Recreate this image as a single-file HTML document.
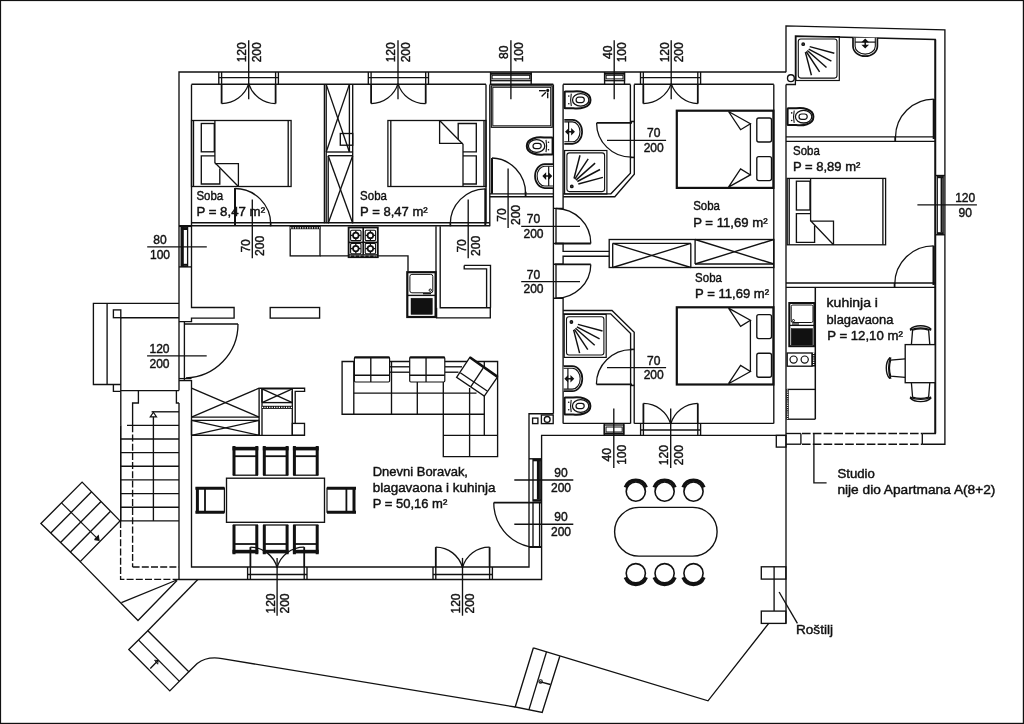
<!DOCTYPE html>
<html><head><meta charset="utf-8"><title>Floor plan</title>
<style>
html,body{margin:0;padding:0;background:#fff;}
body{width:1024px;height:724px;overflow:hidden;}
svg{display:block;will-change:transform;}
svg *{vector-effect:none;}
text{font-family:"Liberation Sans",sans-serif;font-size:12.6px;fill:#111;stroke:#111;stroke-width:0.42px;}
</style></head><body>
<svg width="1024" height="724" viewBox="0 0 1024 724" fill="none" stroke="#111" stroke-width="1.35" stroke-linecap="butt" stroke-linejoin="miter">
<rect x="0" y="0" width="1024" height="724" fill="#fff" stroke="none"/>
<rect x="0.5" y="0.5" width="1022.9" height="722.9" stroke-width="1.2"/>
<polyline points="786,72 179,72 179,390.6"/>
<polyline points="179,403 179,579.5 541.6,579.5 541.6,435.3 786,435.3"/>
<polyline points="786,72.3 786,25.9 944.9,29.8 944.9,444.2 922.3,444.2"/>
<polyline points="786,444.2 800.9,444.2"/>
<line x1="786" y1="84.5" x2="786" y2="623.4"/>
<polyline points="800.9,433.5 786,433.5"/>
<polyline points="922.3,433.5 935.3,433.5 935.3,39.5 795.4,36 795.4,84.5 786,84.5" stroke-width="1.3"/>
<line x1="800.9" y1="433.5" x2="800.9" y2="444.2"/>
<line x1="922.3" y1="433.5" x2="922.3" y2="444.2"/>
<line x1="935.3" y1="39.5" x2="935.3" y2="433.5" stroke-width="1.9"/>
<line x1="802" y1="433.5" x2="922.3" y2="433.5" stroke-width="1.5" stroke-dasharray="8.6 2.2"/>
<line x1="802" y1="444.2" x2="922.3" y2="444.2" stroke-width="1.5" stroke-dasharray="8.6 2.2"/>
<circle cx="790.9" cy="78.2" r="3.4"/>
<rect x="776.3" y="435.4" width="9.7" height="11.7"/>
<line x1="191.5" y1="84.2" x2="486" y2="84.2"/>
<line x1="489.8" y1="84.2" x2="553.3" y2="84.2"/>
<line x1="563.1" y1="84.2" x2="630.4" y2="84.2"/>
<line x1="634.2" y1="84.2" x2="773.8" y2="84.2"/>
<polyline points="191.5,84.4 191.5,307.5 234.1,307.5 234.1,318.1 191.5,318.1 191.5,321.6 179,321.6"/>
<polyline points="179,380.6 191.5,380.6 191.5,567 529,567 529,413.7 553.4,413.7"/>
<line x1="179" y1="226.4" x2="191.5" y2="226.4"/>
<line x1="179" y1="266.9" x2="191.5" y2="266.9"/>
<rect x="270.2" y="307.5" width="49.4" height="10.6"/>
<line x1="191.5" y1="222.7" x2="489.8" y2="222.7"/>
<line x1="179" y1="225.7" x2="489.8" y2="225.7"/>
<line x1="324.4" y1="84.4" x2="324.4" y2="223.3"/>
<line x1="326.2" y1="84.4" x2="326.2" y2="223.3"/>
<line x1="349.4" y1="84.4" x2="349.4" y2="152"/>
<line x1="352.7" y1="84.4" x2="352.7" y2="223.3"/>
<line x1="486" y1="84.4" x2="486" y2="223.3"/>
<line x1="489.8" y1="84.4" x2="489.8" y2="226.3"/>
<line x1="326.2" y1="152" x2="352.7" y2="152"/>
<line x1="326.2" y1="84.4" x2="349.4" y2="152"/>
<line x1="326.2" y1="152" x2="349.4" y2="84.4"/>
<rect x="340.3" y="133.5" width="12.4" height="11.7"/>
<line x1="328.2" y1="155.7" x2="352.7" y2="155.7"/>
<line x1="328.2" y1="155.7" x2="328.2" y2="223.3"/>
<line x1="328.2" y1="155.7" x2="352.7" y2="223.3"/>
<line x1="328.2" y1="223.3" x2="352.7" y2="155.7"/>
<line x1="553.4" y1="84.4" x2="553.4" y2="413.7"/>
<polyline points="563.1,84.4 563.1,208.3 553.4,208.3"/>
<polyline points="553.4,243.5 563.1,243.5 563.1,251.3 609.2,251.3"/>
<polyline points="609.2,256.2 563.1,256.2 563.1,264.2 553.4,264.2"/>
<polyline points="553.4,298.2 563.1,298.2 563.1,423.4"/>
<line x1="556" y1="208.3" x2="556" y2="243.5"/>
<line x1="556" y1="264.2" x2="556" y2="298.2"/>
<line x1="489.8" y1="193.8" x2="553.4" y2="193.8"/>
<line x1="489.8" y1="196.7" x2="553.4" y2="196.7"/>
<polyline points="436,226.3 436,307.7"/>
<polyline points="440.2,226.3 440.2,307.7 490.3,307.7 490.3,317.8 436.6,317.8 436.6,307.7"/>
<polyline points="464.2,265.4 490.5,265.4 490.5,307.7"/>
<polyline points="464.2,265.4 464.2,268.9 486.6,268.9 486.6,307.7"/>
<polyline points="630.4,84.4 630.4,173.3 610.9,193.8 563.1,193.8"/>
<polyline points="634.3,84.4 634.3,174.3 614.8,196.7 563.1,196.7"/>
<polyline points="563.1,310.5 612,310.5 634.2,332.3 634.2,423.4"/>
<polyline points="563.1,313.8 610.7,313.8 630.6,333.5 630.6,423.4"/>
<line x1="563.1" y1="423.4" x2="630.6" y2="423.4"/>
<line x1="634.2" y1="423.4" x2="773.8" y2="423.4"/>
<line x1="773.8" y1="84.4" x2="773.8" y2="423.4"/>
<rect x="532.6" y="418.1" width="5.3" height="5.5"/>
<rect x="541.4" y="415" width="11.8" height="8.6"/>
<circle cx="547.2" cy="419.4" r="2.9"/>
<line x1="218.8" y1="72" x2="218.8" y2="84.2"/>
<line x1="221.6" y1="72" x2="221.6" y2="84.2"/>
<line x1="275.6" y1="72" x2="275.6" y2="84.2"/>
<line x1="278.4" y1="72" x2="278.4" y2="84.2"/>
<line x1="218.8" y1="77.6" x2="278.4" y2="77.6"/>
<path d="M221.6,84.2 L221.6,103.6" stroke-width="1.8"/>
<path d="M275.6,84.2 L275.6,103.6" stroke-width="1.8"/>
<path d="M221.6,103.6 A28.63,28.63 0 0 0 248.7,83.6" stroke-width="1.3"/>
<path d="M275.6,103.6 A28.63,28.63 0 0 1 248.7,83.6" stroke-width="1.3"/>
<line x1="368.3" y1="72" x2="368.3" y2="84.2"/>
<line x1="371.1" y1="72" x2="371.1" y2="84.2"/>
<line x1="425.7" y1="72" x2="425.7" y2="84.2"/>
<line x1="428.5" y1="72" x2="428.5" y2="84.2"/>
<line x1="368.3" y1="77.6" x2="428.5" y2="77.6"/>
<path d="M371.1,84.2 L371.1,103.6" stroke-width="1.8"/>
<path d="M425.7,84.2 L425.7,103.6" stroke-width="1.8"/>
<path d="M371.1,103.6 A28.35,28.35 0 0 0 398,83.6" stroke-width="1.3"/>
<path d="M425.7,103.6 A28.35,28.35 0 0 1 398,83.6" stroke-width="1.3"/>
<line x1="640.5" y1="72" x2="640.5" y2="84.2"/>
<line x1="643.3" y1="72" x2="643.3" y2="84.2"/>
<line x1="697.8" y1="72" x2="697.8" y2="84.2"/>
<line x1="700.6" y1="72" x2="700.6" y2="84.2"/>
<line x1="640.5" y1="77.6" x2="700.6" y2="77.6"/>
<path d="M643.3,84.2 L643.3,103.6" stroke-width="1.8"/>
<path d="M697.8,84.2 L697.8,103.6" stroke-width="1.8"/>
<path d="M643.3,103.6 A29.76,29.76 0 0 0 671.2,83.6" stroke-width="1.3"/>
<path d="M697.8,103.6 A29.76,29.76 0 0 1 671.2,83.6" stroke-width="1.3"/>
<line x1="640.6" y1="435.3" x2="640.6" y2="423.4"/>
<line x1="643.4" y1="435.3" x2="643.4" y2="423.4"/>
<line x1="697.8" y1="435.3" x2="697.8" y2="423.4"/>
<line x1="700.6" y1="435.3" x2="700.6" y2="423.4"/>
<line x1="640.6" y1="430" x2="700.6" y2="430"/>
<path d="M643.4,423.4 L643.4,403.4" stroke-width="1.8"/>
<path d="M697.8,423.4 L697.8,403.4" stroke-width="1.8"/>
<path d="M643.4,403.4 A28.63,28.63 0 0 1 670.7,424" stroke-width="1.3"/>
<path d="M697.8,403.4 A28.63,28.63 0 0 0 670.7,424" stroke-width="1.3"/>
<line x1="247.6" y1="579.5" x2="247.6" y2="567"/>
<line x1="250.4" y1="579.5" x2="250.4" y2="567"/>
<line x1="304.2" y1="579.5" x2="304.2" y2="567"/>
<line x1="307" y1="579.5" x2="307" y2="567"/>
<line x1="247.6" y1="574.5" x2="307" y2="574.5"/>
<path d="M250.4,567 L250.4,547.1" stroke-width="1.8"/>
<path d="M304.2,567 L304.2,547.1" stroke-width="1.8"/>
<path d="M250.4,547.1 A27.86,27.86 0 0 1 277.1,567.6" stroke-width="1.3"/>
<path d="M304.2,547.1 A27.86,27.86 0 0 0 277.1,567.6" stroke-width="1.3"/>
<line x1="433" y1="579.5" x2="433" y2="567"/>
<line x1="435.8" y1="579.5" x2="435.8" y2="567"/>
<line x1="489.6" y1="579.5" x2="489.6" y2="567"/>
<line x1="492.4" y1="579.5" x2="492.4" y2="567"/>
<line x1="433" y1="574.5" x2="492.4" y2="574.5"/>
<path d="M435.8,567 L435.8,547.1" stroke-width="1.8"/>
<path d="M489.6,567 L489.6,547.1" stroke-width="1.8"/>
<path d="M435.8,547.1 A27.86,27.86 0 0 1 462.5,567.6" stroke-width="1.3"/>
<path d="M489.6,547.1 A27.86,27.86 0 0 0 462.5,567.6" stroke-width="1.3"/>
<rect x="490.6" y="73.3" width="40.6" height="7.4" stroke-width="1.3"/>
<rect x="492.1" y="75.3" width="37.6" height="3.6" stroke-width="1"/>
<line x1="490.6" y1="73.9" x2="531.2" y2="73.9" stroke-width="1.6"/>
<rect x="604.6" y="73.3" width="19.9" height="7.4" stroke-width="1.3"/>
<rect x="606.1" y="75.3" width="16.9" height="3.6" stroke-width="1"/>
<line x1="604.6" y1="73.9" x2="624.5" y2="73.9" stroke-width="1.6"/>
<line x1="490.6" y1="72" x2="490.6" y2="84.4"/>
<line x1="531.2" y1="72" x2="531.2" y2="84.4"/>
<line x1="604.6" y1="72" x2="604.6" y2="84.4"/>
<line x1="624.5" y1="72" x2="624.5" y2="84.4"/>
<rect x="604.3" y="425" width="19.5" height="9" stroke-width="1.3"/>
<rect x="606" y="427" width="16.2" height="5" stroke-width="1"/>
<line x1="604.3" y1="433.5" x2="623.8" y2="433.5" stroke-width="1.6"/>
<line x1="604.3" y1="423.4" x2="604.3" y2="435.3"/>
<line x1="623.8" y1="423.4" x2="623.8" y2="435.3"/>
<rect x="181.2" y="227.3" width="6.4" height="39" stroke-width="1.3"/>
<rect x="181.2" y="227.3" width="2.4" height="39" stroke-width="0.5" fill="#111"/>
<line x1="181.2" y1="229" x2="187.6" y2="229" stroke-width="2"/>
<line x1="181.2" y1="264.8" x2="187.6" y2="264.8" stroke-width="2"/>
<rect x="937.3" y="176" width="5.9" height="58.3" stroke-width="1.2"/>
<line x1="941.6" y1="178" x2="941.6" y2="232.5" stroke-width="2"/>
<line x1="937.3" y1="177.2" x2="943.2" y2="177.2" stroke-width="2"/>
<line x1="937.3" y1="233.2" x2="943.2" y2="233.2" stroke-width="2"/>
<line x1="935.3" y1="175.5" x2="944.9" y2="175.5"/>
<line x1="935.3" y1="234.8" x2="944.9" y2="234.8"/>
<rect x="533" y="459.4" width="7.8" height="41.6" stroke-width="1.3"/>
<line x1="538.4" y1="461" x2="538.4" y2="499.5" stroke-width="3"/>
<line x1="533" y1="460.3" x2="540.8" y2="460.3" stroke-width="2"/>
<line x1="533" y1="500.2" x2="540.8" y2="500.2" stroke-width="2"/>
<line x1="529" y1="458.8" x2="541.6" y2="458.8"/>
<line x1="493.8" y1="502.6" x2="541.6" y2="502.6" stroke-width="1.6"/>
<path d="M493.8,502.6 A44.7,44.7 0 0 0 529,546.6" stroke-width="1.3"/>
<line x1="533" y1="502.6" x2="533" y2="547"/>
<line x1="539.6" y1="502.6" x2="539.6" y2="547"/>
<line x1="529" y1="547" x2="541.6" y2="547" stroke-width="2"/>
<line x1="235" y1="188" x2="235" y2="226" stroke-width="2"/>
<path d="M235,188.5 A36,36 0 0 1 270.8,224.5" stroke-width="1.3"/>
<line x1="485.3" y1="188.6" x2="485.3" y2="225" stroke-width="2"/>
<path d="M485.3,188.8 A35.5,35.5 0 0 0 450.2,224.5" stroke-width="1.3"/>
<line x1="450.4" y1="223.3" x2="450.4" y2="226.3" stroke-width="1.6"/>
<line x1="270.6" y1="223.3" x2="270.6" y2="226.3" stroke-width="1.6"/>
<line x1="492" y1="158" x2="492" y2="193.8" stroke-width="2"/>
<path d="M492,158 A34.5,35.8 0 0 1 525.6,193.8" stroke-width="1.3"/>
<line x1="525.6" y1="191.8" x2="525.6" y2="196.7" stroke-width="1.8"/>
<line x1="555" y1="243.5" x2="590.8" y2="243.5" stroke-width="1.8"/>
<path d="M590.8,243.5 A35,35 0 0 0 556,208.5" stroke-width="1.3"/>
<line x1="555" y1="264.4" x2="590.8" y2="264.4" stroke-width="1.8"/>
<path d="M590.8,264.4 A35,34 0 0 1 556,298.2" stroke-width="1.3"/>
<line x1="596.6" y1="122.9" x2="632" y2="122.9" stroke-width="1.8"/>
<path d="M596.6,122.9 A34.8,34.3 0 0 0 631.4,157.2" stroke-width="1.3"/>
<line x1="630.4" y1="121.5" x2="634.3" y2="121.5" stroke-width="1.6"/>
<line x1="630.4" y1="157.4" x2="634.3" y2="157.4" stroke-width="1.6"/>
<line x1="596.4" y1="384.3" x2="632" y2="384.3" stroke-width="1.8"/>
<path d="M596.4,384.3 A35.2,34.7 0 0 1 631.6,349.6" stroke-width="1.3"/>
<line x1="630.6" y1="349.4" x2="634.2" y2="349.4" stroke-width="1.6"/>
<line x1="630.6" y1="385.4" x2="634.2" y2="385.4" stroke-width="1.6"/>
<line x1="933.8" y1="99" x2="933.8" y2="139" stroke-width="2.2"/>
<path d="M933.8,99.1 A38.3,38.1 0 0 0 895.5,137.2" stroke-width="1.3"/>
<line x1="895.2" y1="136.8" x2="895.2" y2="141.4" stroke-width="1.8"/>
<line x1="786" y1="136.8" x2="935.3" y2="136.8"/>
<line x1="786" y1="141.4" x2="935.3" y2="141.4"/>
<line x1="933.6" y1="245.8" x2="933.6" y2="285" stroke-width="2.2"/>
<path d="M933.6,245.9 A38.8,38.1 0 0 0 894.8,284" stroke-width="1.3"/>
<line x1="894.6" y1="283" x2="894.6" y2="287.3" stroke-width="1.8"/>
<line x1="786" y1="283" x2="935.3" y2="283"/>
<line x1="786" y1="287.3" x2="935.3" y2="287.3"/>
<line x1="184.4" y1="321.6" x2="184.4" y2="380.6"/>
<line x1="184.3" y1="324" x2="238" y2="324" stroke-width="1.4"/>
<path d="M238,324 A53.7,53.7 0 0 1 186,377.9" stroke-width="1.3"/>
<line x1="179" y1="378.6" x2="191.5" y2="378.6"/>
<line x1="248.7" y1="40.2" x2="248.7" y2="99.3"/>
<text x="246.1" y="52.3" text-anchor="middle" textLength="20.1" lengthAdjust="spacingAndGlyphs" transform="rotate(-90 246.1 52.3)">120</text>
<text x="260.6" y="52.3" text-anchor="middle" textLength="20.1" lengthAdjust="spacingAndGlyphs" transform="rotate(-90 260.6 52.3)">200</text>
<line x1="398" y1="40.2" x2="398" y2="99.3"/>
<text x="395.4" y="52.3" text-anchor="middle" textLength="20.1" lengthAdjust="spacingAndGlyphs" transform="rotate(-90 395.4 52.3)">120</text>
<text x="409.9" y="52.3" text-anchor="middle" textLength="20.1" lengthAdjust="spacingAndGlyphs" transform="rotate(-90 409.9 52.3)">200</text>
<line x1="510.9" y1="40.2" x2="510.9" y2="99.3"/>
<text x="508.3" y="52.3" text-anchor="middle" textLength="13.4" lengthAdjust="spacingAndGlyphs" transform="rotate(-90 508.3 52.3)">80</text>
<text x="522.8" y="52.3" text-anchor="middle" textLength="20.1" lengthAdjust="spacingAndGlyphs" transform="rotate(-90 522.8 52.3)">100</text>
<line x1="614.2" y1="40.2" x2="614.2" y2="99.3"/>
<text x="611.6" y="52.3" text-anchor="middle" textLength="13.4" lengthAdjust="spacingAndGlyphs" transform="rotate(-90 611.6 52.3)">40</text>
<text x="626.1" y="52.3" text-anchor="middle" textLength="20.1" lengthAdjust="spacingAndGlyphs" transform="rotate(-90 626.1 52.3)">100</text>
<line x1="671.2" y1="40.2" x2="671.2" y2="99.3"/>
<text x="668.6" y="52.3" text-anchor="middle" textLength="20.1" lengthAdjust="spacingAndGlyphs" transform="rotate(-90 668.6 52.3)">120</text>
<text x="683.1" y="52.3" text-anchor="middle" textLength="20.1" lengthAdjust="spacingAndGlyphs" transform="rotate(-90 683.1 52.3)">200</text>
<line x1="252.3" y1="199.6" x2="252.3" y2="258.2"/>
<text x="249.7" y="245.9" text-anchor="middle" textLength="13.4" lengthAdjust="spacingAndGlyphs" transform="rotate(-90 249.7 245.9)">70</text>
<text x="264.2" y="245.9" text-anchor="middle" textLength="20.1" lengthAdjust="spacingAndGlyphs" transform="rotate(-90 264.2 245.9)">200</text>
<line x1="468.2" y1="199.6" x2="468.2" y2="258.2"/>
<text x="465.6" y="245.9" text-anchor="middle" textLength="13.4" lengthAdjust="spacingAndGlyphs" transform="rotate(-90 465.6 245.9)">70</text>
<text x="480.1" y="245.9" text-anchor="middle" textLength="20.1" lengthAdjust="spacingAndGlyphs" transform="rotate(-90 480.1 245.9)">200</text>
<line x1="508.1" y1="168.4" x2="508.1" y2="228"/>
<text x="505.5" y="215" text-anchor="middle" textLength="13.4" lengthAdjust="spacingAndGlyphs" transform="rotate(-90 505.5 215)">70</text>
<text x="520" y="215" text-anchor="middle" textLength="20.1" lengthAdjust="spacingAndGlyphs" transform="rotate(-90 520 215)">200</text>
<line x1="613.8" y1="408.4" x2="613.8" y2="468"/>
<text x="611.2" y="454.8" text-anchor="middle" textLength="13.4" lengthAdjust="spacingAndGlyphs" transform="rotate(-90 611.2 454.8)">40</text>
<text x="625.7" y="454.8" text-anchor="middle" textLength="20.1" lengthAdjust="spacingAndGlyphs" transform="rotate(-90 625.7 454.8)">100</text>
<line x1="670.7" y1="408.4" x2="670.7" y2="468"/>
<text x="668.1" y="455.2" text-anchor="middle" textLength="20.1" lengthAdjust="spacingAndGlyphs" transform="rotate(-90 668.1 455.2)">120</text>
<text x="682.6" y="455.2" text-anchor="middle" textLength="20.1" lengthAdjust="spacingAndGlyphs" transform="rotate(-90 682.6 455.2)">200</text>
<line x1="277.1" y1="557.9" x2="277.1" y2="615.7"/>
<text x="274.5" y="603.5" text-anchor="middle" textLength="20.1" lengthAdjust="spacingAndGlyphs" transform="rotate(-90 274.5 603.5)">120</text>
<text x="289" y="603.5" text-anchor="middle" textLength="20.1" lengthAdjust="spacingAndGlyphs" transform="rotate(-90 289 603.5)">200</text>
<line x1="462.5" y1="557.9" x2="462.5" y2="615.7"/>
<text x="459.9" y="603.5" text-anchor="middle" textLength="20.1" lengthAdjust="spacingAndGlyphs" transform="rotate(-90 459.9 603.5)">120</text>
<text x="474.4" y="603.5" text-anchor="middle" textLength="20.1" lengthAdjust="spacingAndGlyphs" transform="rotate(-90 474.4 603.5)">200</text>
<line x1="147.2" y1="246.9" x2="206.8" y2="246.9"/>
<text x="160" y="243.9" text-anchor="middle" textLength="13.4" lengthAdjust="spacingAndGlyphs">80</text>
<text x="160" y="258.7" text-anchor="middle" textLength="20.1" lengthAdjust="spacingAndGlyphs">100</text>
<line x1="147.1" y1="355.8" x2="206.7" y2="355.8"/>
<text x="159.5" y="352.8" text-anchor="middle" textLength="20.1" lengthAdjust="spacingAndGlyphs">120</text>
<text x="159.5" y="367.6" text-anchor="middle" textLength="20.1" lengthAdjust="spacingAndGlyphs">200</text>
<line x1="521.2" y1="226.3" x2="580" y2="226.3"/>
<text x="533.5" y="223.3" text-anchor="middle" textLength="13.4" lengthAdjust="spacingAndGlyphs">70</text>
<text x="533.5" y="238.1" text-anchor="middle" textLength="20.1" lengthAdjust="spacingAndGlyphs">200</text>
<line x1="521.2" y1="281.6" x2="580" y2="281.6"/>
<text x="533.5" y="278.6" text-anchor="middle" textLength="13.4" lengthAdjust="spacingAndGlyphs">70</text>
<text x="533.5" y="293.4" text-anchor="middle" textLength="20.1" lengthAdjust="spacingAndGlyphs">200</text>
<line x1="607" y1="140.4" x2="666.1" y2="140.4"/>
<text x="653.7" y="137.4" text-anchor="middle" textLength="13.4" lengthAdjust="spacingAndGlyphs">70</text>
<text x="653.7" y="152.2" text-anchor="middle" textLength="20.1" lengthAdjust="spacingAndGlyphs">200</text>
<line x1="607" y1="367.6" x2="666.1" y2="367.6"/>
<text x="653.7" y="364.6" text-anchor="middle" textLength="13.4" lengthAdjust="spacingAndGlyphs">70</text>
<text x="653.7" y="379.4" text-anchor="middle" textLength="20.1" lengthAdjust="spacingAndGlyphs">200</text>
<line x1="917.4" y1="204.9" x2="976.9" y2="204.9"/>
<text x="965.2" y="201.9" text-anchor="middle" textLength="20.1" lengthAdjust="spacingAndGlyphs">120</text>
<text x="965.2" y="216.7" text-anchor="middle" textLength="13.4" lengthAdjust="spacingAndGlyphs">90</text>
<line x1="514.3" y1="480" x2="573.3" y2="480"/>
<text x="561" y="477" text-anchor="middle" textLength="13.4" lengthAdjust="spacingAndGlyphs">90</text>
<text x="561" y="491.8" text-anchor="middle" textLength="20.1" lengthAdjust="spacingAndGlyphs">200</text>
<line x1="514.3" y1="524.2" x2="573.3" y2="524.2"/>
<text x="561" y="521.2" text-anchor="middle" textLength="13.4" lengthAdjust="spacingAndGlyphs">90</text>
<text x="561" y="536" text-anchor="middle" textLength="20.1" lengthAdjust="spacingAndGlyphs">200</text>
<rect x="191.5" y="120.5" width="99.6" height="66" stroke-width="1.3"/>
<line x1="193.5" y1="120.5" x2="193.5" y2="186.5"/>
<line x1="288.2" y1="120.5" x2="288.2" y2="186.5"/>
<rect x="201.3" y="123.5" width="13" height="28.3"/>
<polyline points="214.9,155.8 201.3,155.8 201.3,184 219.8,184 219.8,168.5"/>
<polyline points="214.9,120.5 214.9,162.8 238.4,186.5" stroke-width="1.3"/>
<polyline points="214.9,163.6 238.4,163.6 238.4,186.5" stroke-width="1.3"/>
<rect x="387.9" y="120.5" width="98.1" height="66" stroke-width="1.3"/>
<line x1="390.8" y1="120.5" x2="390.8" y2="186.5"/>
<line x1="484" y1="120.5" x2="484" y2="186.5"/>
<polyline points="463,151.8 476.3,151.8 476.3,123.5 458.2,123.5 458.2,139.4"/>
<polyline points="463,155.8 476.3,155.8 476.3,184 463,184"/>
<polyline points="439.6,120.5 463,144.3 463,186.5" stroke-width="1.3"/>
<polyline points="439.6,120.5 439.6,143.4 462.7,143.4" stroke-width="1.3"/>
<rect x="787.2" y="178.4" width="98.4" height="66.4" stroke-width="1.3"/>
<line x1="789.2" y1="178.4" x2="789.2" y2="244.8"/>
<line x1="882.9" y1="178.4" x2="882.9" y2="244.8"/>
<rect x="796.4" y="181.2" width="13.6" height="28.8"/>
<polyline points="810.6,213.6 796.4,213.6 796.4,242.3 814.6,242.3 814.6,225.5"/>
<polyline points="810.6,178.4 810.6,220.8 833.5,244.8" stroke-width="1.3"/>
<polyline points="810.6,221.2 833.5,221.2 833.5,244.8" stroke-width="1.3"/>
<rect x="676.8" y="110.7" width="96.6" height="77.2" stroke-width="2.2"/>
<rect x="756.8" y="118" width="14.7" height="24" rx="2"/>
<rect x="756.8" y="156.6" width="14.7" height="24" rx="2"/>
<line x1="750.4" y1="123.4" x2="750.4" y2="175.2" stroke-width="1.3"/>
<polyline points="728.5,111.5 750.4,123.7 740.6,129.7 728.5,111.5" stroke-width="1.3"/>
<polyline points="728.5,187.1 750.4,174.9 740.6,168.9 728.5,187.1" stroke-width="1.3"/>
<rect x="676.8" y="307.3" width="96.6" height="77.2" stroke-width="2.2"/>
<rect x="756.8" y="314.6" width="14.7" height="24" rx="2"/>
<rect x="756.8" y="353.2" width="14.7" height="24" rx="2"/>
<line x1="750.4" y1="320" x2="750.4" y2="371.8" stroke-width="1.3"/>
<polyline points="728.5,308.1 750.4,320.3 740.6,326.3 728.5,308.1" stroke-width="1.3"/>
<polyline points="728.5,383.7 750.4,371.5 740.6,365.5 728.5,383.7" stroke-width="1.3"/>
<rect x="609.2" y="239.5" width="164.6" height="28"/>
<line x1="612.7" y1="243.4" x2="690.8" y2="243.4"/>
<line x1="612.7" y1="243.4" x2="612.7" y2="267.5"/>
<line x1="690.8" y1="243.4" x2="690.8" y2="267.5"/>
<line x1="612.7" y1="243.4" x2="690.8" y2="267.5"/>
<line x1="612.7" y1="267.5" x2="690.8" y2="243.4"/>
<line x1="695.1" y1="264" x2="773.8" y2="264"/>
<line x1="695.1" y1="239.5" x2="695.1" y2="264"/>
<line x1="695.1" y1="239.5" x2="773.8" y2="264"/>
<line x1="695.1" y1="264" x2="773.8" y2="239.5"/>
<rect x="491.3" y="85.8" width="60.9" height="41.5" stroke-width="1.2"/>
<rect x="492.8" y="87.3" width="57.9" height="38.5" stroke-width="1"/>
<circle cx="547.7" cy="90.4" r="0.9" fill="#111"/>
<line x1="539" y1="90.7" x2="545.8" y2="90.7"/>
<line x1="541.6" y1="96.6" x2="545.9" y2="92.3"/>
<line x1="547.7" y1="92.4" x2="547.7" y2="98.3"/>
<g transform="translate(553 146) rotate(180)">
<path d="M0.4,-7.9 Q0.4,-8.4 1,-8.4 L9,-8.4 C15,-9.2 26.2,-8 26.2,0 C26.2,8 15,9.2 9,8.4 L1,8.4 Q0.4,8.4 0.4,7.9 Z" fill="#fff" stroke-width="2"/>
<ellipse cx="16.4" cy="0" rx="8.2" ry="6.3" stroke-width="1.3"/>
<rect x="11.8" y="-2.7" width="8.2" height="5.4" rx="2.6" stroke-width="1.2"/>
<path d="M7,-6.2 Q5.7,0 7,6.2" stroke-width="1.1"/>
<circle cx="4.5" cy="-3.8" r="0.8" fill="#111" stroke="none"/><circle cx="4.5" cy="3.8" r="0.8" fill="#111" stroke="none"/>
</g>
<g transform="translate(553 176.1) rotate(180)">
<path d="M0,-12 L8.28,-12 A9.72,12 0 0 1 8.28,12 L0,12" stroke-width="1.7" fill="#fff"/>
<path d="M0,-9.9 L8.28,-9.9 A7.62,9.9 0 0 1 8.28,9.9 L0,9.9" stroke-width="1.1"/>
<line x1="4.3" y1="-9.9" x2="4.3" y2="9.9" stroke-width="1.2"/>
<path d="M2,0 L9.4,0 M3.8,-2 L1.8,0 L3.8,2 Z M7.6,-2 L9.6,0 L7.6,2 Z" stroke-width="1.5" fill="#111"/>
</g>
<g transform="translate(564.3 99.9) rotate(0)">
<path d="M0.4,-7.9 Q0.4,-8.4 1,-8.4 L9,-8.4 C15,-9.2 26.2,-8 26.2,0 C26.2,8 15,9.2 9,8.4 L1,8.4 Q0.4,8.4 0.4,7.9 Z" fill="#fff" stroke-width="2"/>
<ellipse cx="16.4" cy="0" rx="8.2" ry="6.3" stroke-width="1.3"/>
<rect x="11.8" y="-2.7" width="8.2" height="5.4" rx="2.6" stroke-width="1.2"/>
<path d="M7,-6.2 Q5.7,0 7,6.2" stroke-width="1.1"/>
<circle cx="4.5" cy="-3.8" r="0.8" fill="#111" stroke="none"/><circle cx="4.5" cy="3.8" r="0.8" fill="#111" stroke="none"/>
</g>
<g transform="translate(564.3 131.8) rotate(0)">
<path d="M0,-12 L8.19,-12 A9.61,12 0 0 1 8.19,12 L0,12" stroke-width="1.7" fill="#fff"/>
<path d="M0,-9.9 L8.19,-9.9 A7.51,9.9 0 0 1 8.19,9.9 L0,9.9" stroke-width="1.1"/>
<line x1="4.3" y1="-9.9" x2="4.3" y2="9.9" stroke-width="1.2"/>
<path d="M2,0 L9.4,0 M3.8,-2 L1.8,0 L3.8,2 Z M7.6,-2 L9.6,0 L7.6,2 Z" stroke-width="1.5" fill="#111"/>
</g>
<rect x="564.6" y="150.5" width="42.3" height="43.5" stroke-width="1.2"/>
<rect x="566.9" y="152.9" width="37.7" height="38.7" rx="2.5" stroke-width="1.1"/>
<circle cx="571.8" cy="186.4" r="1.3" stroke-width="1.2" fill="#444"/>
<line x1="578.3" y1="184" x2="602.9" y2="177.4" stroke-width="1.45"/>
<line x1="577.3" y1="181.5" x2="600" y2="169.5" stroke-width="1.45"/>
<line x1="575.9" y1="180.1" x2="595.1" y2="163.1" stroke-width="1.45"/>
<line x1="574.8" y1="179.1" x2="588.2" y2="158.8" stroke-width="1.45"/>
<line x1="574" y1="178.5" x2="580" y2="155.3" stroke-width="1.45"/>
<rect x="564.2" y="314.4" width="42" height="43" stroke-width="1.2"/>
<rect x="566.5" y="316.8" width="37.4" height="38.2" rx="2.5" stroke-width="1.1"/>
<circle cx="571.4" cy="322" r="1.3" stroke-width="1.2" fill="#444"/>
<line x1="577.9" y1="324.4" x2="602.5" y2="331" stroke-width="1.45"/>
<line x1="576.9" y1="326.9" x2="599.6" y2="338.9" stroke-width="1.45"/>
<line x1="575.5" y1="328.3" x2="594.7" y2="345.3" stroke-width="1.45"/>
<line x1="574.4" y1="329.3" x2="587.8" y2="349.6" stroke-width="1.45"/>
<line x1="573.6" y1="329.9" x2="579.6" y2="353.1" stroke-width="1.45"/>
<g transform="translate(563.6 378.7) rotate(0)">
<path d="M0,-12.5 L8.6,-12.5 A10.1,12.5 0 0 1 8.6,12.5 L0,12.5" stroke-width="1.7" fill="#fff"/>
<path d="M0,-10.4 L8.6,-10.4 A8,10.4 0 0 1 8.6,10.4 L0,10.4" stroke-width="1.1"/>
<line x1="4.3" y1="-10.4" x2="4.3" y2="10.4" stroke-width="1.2"/>
<path d="M2,0 L9.4,0 M3.8,-2 L1.8,0 L3.8,2 Z M7.6,-2 L9.6,0 L7.6,2 Z" stroke-width="1.5" fill="#111"/>
</g>
<g transform="translate(564.2 406) rotate(0)">
<path d="M0.4,-7.9 Q0.4,-8.4 1,-8.4 L9,-8.4 C15,-9.2 26.2,-8 26.2,0 C26.2,8 15,9.2 9,8.4 L1,8.4 Q0.4,8.4 0.4,7.9 Z" fill="#fff" stroke-width="2"/>
<ellipse cx="16.4" cy="0" rx="8.2" ry="6.3" stroke-width="1.3"/>
<rect x="11.8" y="-2.7" width="8.2" height="5.4" rx="2.6" stroke-width="1.2"/>
<path d="M7,-6.2 Q5.7,0 7,6.2" stroke-width="1.1"/>
<circle cx="4.5" cy="-3.8" r="0.8" fill="#111" stroke="none"/><circle cx="4.5" cy="3.8" r="0.8" fill="#111" stroke="none"/>
</g>
<rect x="796" y="36.6" width="43.3" height="43.9" stroke-width="1.2"/>
<rect x="798.3" y="39" width="38.7" height="39.1" rx="2.5" stroke-width="1.1"/>
<circle cx="803.2" cy="44.2" r="1.3" stroke-width="1.2" fill="#444"/>
<line x1="809.7" y1="46.6" x2="834.3" y2="53.2" stroke-width="1.45"/>
<line x1="808.7" y1="49.1" x2="831.4" y2="61.1" stroke-width="1.45"/>
<line x1="807.3" y1="50.5" x2="826.5" y2="67.5" stroke-width="1.45"/>
<line x1="806.2" y1="51.5" x2="819.6" y2="71.8" stroke-width="1.45"/>
<line x1="805.4" y1="52.1" x2="811.4" y2="75.3" stroke-width="1.45"/>
<g transform="translate(865.2 37.8) rotate(90)">
<path d="M0,-12.2 L8.46,-12.2 A9.94,12.2 0 0 1 8.46,12.2 L0,12.2" stroke-width="1.7" fill="#fff"/>
<path d="M0,-10.1 L8.46,-10.1 A7.84,10.1 0 0 1 8.46,10.1 L0,10.1" stroke-width="1.1"/>
<line x1="4.3" y1="-10.1" x2="4.3" y2="10.1" stroke-width="1.2"/>
<path d="M2,0 L9.4,0 M3.8,-2 L1.8,0 L3.8,2 Z M7.6,-2 L9.6,0 L7.6,2 Z" stroke-width="1.5" fill="#111"/>
</g>
<g transform="translate(787.2 116.7) rotate(0)">
<path d="M0.4,-7.9 Q0.4,-8.4 1,-8.4 L9,-8.4 C15,-9.2 26.2,-8 26.2,0 C26.2,8 15,9.2 9,8.4 L1,8.4 Q0.4,8.4 0.4,7.9 Z" fill="#fff" stroke-width="2"/>
<ellipse cx="16.4" cy="0" rx="8.2" ry="6.3" stroke-width="1.3"/>
<rect x="11.8" y="-2.7" width="8.2" height="5.4" rx="2.6" stroke-width="1.2"/>
<path d="M7,-6.2 Q5.7,0 7,6.2" stroke-width="1.1"/>
<circle cx="4.5" cy="-3.8" r="0.8" fill="#111" stroke="none"/><circle cx="4.5" cy="3.8" r="0.8" fill="#111" stroke="none"/>
</g>
<rect x="290.2" y="226.6" width="29.8" height="29.3"/>
<rect x="290.2" y="226.6" width="29.8" height="2.4" stroke-width="0.4" fill="#111"/>
<line x1="290.2" y1="227.8" x2="320" y2="227.8" stroke="#fff" stroke-width="1.2" stroke-dasharray="1.2 1.2"/>
<polyline points="320,255.9 408,255.9 408,271.5"/>
<rect x="348.6" y="227.5" width="29.2" height="29.7" stroke-width="1.8" fill="#fff"/>
<line x1="363.2" y1="227.5" x2="363.2" y2="254.8" stroke-width="1.6"/>
<line x1="348.6" y1="242.4" x2="377.8" y2="242.4" stroke-width="1.6"/>
<line x1="348.6" y1="254.9" x2="377.8" y2="254.9" stroke-width="1.4"/>
<rect x="350.6" y="230.2" width="10.4" height="10.4" rx="1.2" stroke-width="1.1"/>
<circle cx="355.8" cy="235.4" r="2.8" stroke-width="1.7"/>
<line x1="350.8" y1="235.4" x2="352.8" y2="235.4" stroke-width="1.3"/>
<line x1="358.8" y1="235.4" x2="360.8" y2="235.4" stroke-width="1.3"/>
<line x1="355.8" y1="230.4" x2="355.8" y2="232.4" stroke-width="1.3"/>
<line x1="355.8" y1="238.4" x2="355.8" y2="240.4" stroke-width="1.3"/>
<rect x="350.6" y="243.4" width="10.4" height="10.4" rx="1.2" stroke-width="1.1"/>
<circle cx="355.8" cy="248.6" r="2.8" stroke-width="1.7"/>
<line x1="350.8" y1="248.6" x2="352.8" y2="248.6" stroke-width="1.3"/>
<line x1="358.8" y1="248.6" x2="360.8" y2="248.6" stroke-width="1.3"/>
<line x1="355.8" y1="243.6" x2="355.8" y2="245.6" stroke-width="1.3"/>
<line x1="355.8" y1="251.6" x2="355.8" y2="253.6" stroke-width="1.3"/>
<rect x="365.2" y="230.2" width="10.4" height="10.4" rx="1.2" stroke-width="1.1"/>
<circle cx="370.4" cy="235.4" r="2.8" stroke-width="1.7"/>
<line x1="365.4" y1="235.4" x2="367.4" y2="235.4" stroke-width="1.3"/>
<line x1="373.4" y1="235.4" x2="375.4" y2="235.4" stroke-width="1.3"/>
<line x1="370.4" y1="230.4" x2="370.4" y2="232.4" stroke-width="1.3"/>
<line x1="370.4" y1="238.4" x2="370.4" y2="240.4" stroke-width="1.3"/>
<rect x="365.2" y="243.4" width="10.4" height="10.4" rx="1.2" stroke-width="1.1"/>
<circle cx="370.4" cy="248.6" r="2.8" stroke-width="1.7"/>
<line x1="365.4" y1="248.6" x2="367.4" y2="248.6" stroke-width="1.3"/>
<line x1="373.4" y1="248.6" x2="375.4" y2="248.6" stroke-width="1.3"/>
<line x1="370.4" y1="243.6" x2="370.4" y2="245.6" stroke-width="1.3"/>
<line x1="370.4" y1="251.6" x2="370.4" y2="253.6" stroke-width="1.3"/>
<line x1="351" y1="256.2" x2="375.5" y2="256.2" stroke-width="1.4" stroke-dasharray="3.2 1.6"/>
<rect x="407.3" y="272.2" width="28.3" height="44.8" stroke-width="2.2" fill="#fff"/>
<rect x="409.9" y="274.4" width="22.9" height="18.4" rx="2" stroke-width="1"/>
<line x1="408" y1="295.4" x2="435" y2="295.4" stroke-width="1.4"/>
<rect x="411" y="298.2" width="21.3" height="16.2" stroke-width="0.5" fill="#111"/>
<circle cx="430.3" cy="290.2" r="1.2" stroke-width="1"/>
<line x1="423" y1="293.7" x2="431" y2="293.7" stroke-width="1.3"/>
<line x1="815.3" y1="287.3" x2="815.3" y2="419.2" stroke-width="1.5"/>
<line x1="787.2" y1="419.2" x2="815.3" y2="419.2"/>
<rect x="789.3" y="303" width="25.1" height="43.2" stroke-width="2" fill="#fff"/>
<rect x="791.2" y="305" width="21.8" height="17.5" rx="1.6" stroke-width="1"/>
<line x1="790" y1="325.4" x2="814" y2="325.4" stroke-width="1.3"/>
<rect x="791.2" y="328.6" width="21.4" height="16.4" stroke-width="0.5" fill="#111"/>
<circle cx="793.4" cy="320.6" r="1.1" stroke-width="1"/>
<line x1="792" y1="324" x2="799" y2="324" stroke-width="1.2"/>
<rect x="787.2" y="353" width="24.8" height="13.2"/>
<circle cx="793.6" cy="359.6" r="3.6" stroke-width="1.2"/>
<circle cx="804.7" cy="359.6" r="3.6" stroke-width="1.2"/>
<rect x="812" y="353" width="3.3" height="13.2" stroke-width="0.4" fill="#111"/>
<line x1="813.6" y1="353" x2="813.6" y2="366.2" stroke="#fff" stroke-width="1.3" stroke-dasharray="1.1 1.1"/>
<line x1="787.2" y1="389.4" x2="815.3" y2="389.4"/>
<rect x="786.6" y="389.4" width="2" height="29.8" stroke-width="0.4" fill="#111"/>
<line x1="787.6" y1="389.4" x2="787.6" y2="419.2" stroke="#fff" stroke-width="1.1" stroke-dasharray="1.1 1.1"/>
<g transform="translate(920.6 344.6) rotate(0)">
<path d="M-9.2,0 L-8,-14.5 Q0,-17 8,-14.5 L9.2,0" stroke-width="1.3"/>
<path d="M-10.2,-15.6 C-6,-20 6,-20 10.2,-15.6 L9.9,-14.6 C5,-17.2 -5,-17.2 -9.9,-14.6 Z" stroke-width="1.4" fill="#fff"/>
</g>
<g transform="translate(905.2 368.1) rotate(-90)">
<path d="M-9.2,0 L-8,-14.5 Q0,-17 8,-14.5 L9.2,0" stroke-width="1.3"/>
<path d="M-10.2,-15.6 C-6,-20 6,-20 10.2,-15.6 L9.9,-14.6 C5,-17.2 -5,-17.2 -9.9,-14.6 Z" stroke-width="1.4" fill="#fff"/>
</g>
<g transform="translate(920.6 382.7) rotate(180)">
<path d="M-9.2,0 L-8,-14.5 Q0,-17 8,-14.5 L9.2,0" stroke-width="1.3"/>
<path d="M-10.2,-15.6 C-6,-20 6,-20 10.2,-15.6 L9.9,-14.6 C5,-17.2 -5,-17.2 -9.9,-14.6 Z" stroke-width="1.4" fill="#fff"/>
</g>
<rect x="905.2" y="344.6" width="30" height="38.1" fill="#fff"/>
<line x1="191.5" y1="417.1" x2="259.1" y2="417.1"/>
<line x1="191.5" y1="388.2" x2="259.1" y2="417.1"/>
<line x1="191.5" y1="417.1" x2="259.1" y2="388.2"/>
<line x1="191.5" y1="420.4" x2="259.1" y2="420.4"/>
<line x1="191.5" y1="435.3" x2="259.1" y2="435.3"/>
<line x1="191.5" y1="420.4" x2="191.5" y2="435.3"/>
<line x1="259.1" y1="420.4" x2="259.1" y2="435.3"/>
<line x1="191.5" y1="420.4" x2="259.1" y2="435.3"/>
<line x1="191.5" y1="435.3" x2="259.1" y2="420.4"/>
<line x1="259.1" y1="388.2" x2="259.1" y2="435.3"/>
<line x1="262" y1="388.2" x2="262" y2="435.3"/>
<polyline points="259.1,388.2 304.6,388.2 304.6,391.3 295.2,391.3 295.2,423.6"/>
<line x1="292.3" y1="391.3" x2="292.3" y2="435.3"/>
<line x1="262" y1="388.8" x2="292.3" y2="388.8"/>
<line x1="262" y1="402.6" x2="292.3" y2="402.6"/>
<line x1="262" y1="388.8" x2="262" y2="402.6"/>
<line x1="292.3" y1="388.8" x2="292.3" y2="402.6"/>
<line x1="262" y1="388.8" x2="292.3" y2="402.6"/>
<line x1="262" y1="402.6" x2="292.3" y2="388.8"/>
<rect x="262" y="406" width="30.3" height="2.8" stroke-width="0.4" fill="#111"/>
<line x1="262" y1="407.4" x2="292.3" y2="407.4" stroke="#fff" stroke-width="1.2" stroke-dasharray="1.2 1.2"/>
<rect x="292.3" y="423.4" width="12.2" height="11.9"/>
<line x1="191.5" y1="435.3" x2="304.6" y2="435.3"/>
<g transform="translate(245.4 446.6) rotate(0)">
<path d="M-11.4,-0.6 L-11.4,28.6 M11.4,-0.6 L11.4,28.6" stroke-width="3"/>
<path d="M-12.9,2 L12.9,2" stroke-width="3.6"/>
<path d="M-11.6,9.6 L11.6,9.6" stroke-width="1.8"/>
<path d="M-12.6,28.6 L12.6,28.6" stroke-width="1.3"/>
</g>
<g transform="translate(245.4 553.6) rotate(180)">
<path d="M-11.4,-0.6 L-11.4,28.6 M11.4,-0.6 L11.4,28.6" stroke-width="3"/>
<path d="M-12.9,2 L12.9,2" stroke-width="3.6"/>
<path d="M-11.6,9.6 L11.6,9.6" stroke-width="1.8"/>
<path d="M-12.6,28.6 L12.6,28.6" stroke-width="1.3"/>
</g>
<g transform="translate(275.7 446.6) rotate(0)">
<path d="M-11.4,-0.6 L-11.4,28.6 M11.4,-0.6 L11.4,28.6" stroke-width="3"/>
<path d="M-12.9,2 L12.9,2" stroke-width="3.6"/>
<path d="M-11.6,9.6 L11.6,9.6" stroke-width="1.8"/>
<path d="M-12.6,28.6 L12.6,28.6" stroke-width="1.3"/>
</g>
<g transform="translate(275.7 553.6) rotate(180)">
<path d="M-11.4,-0.6 L-11.4,28.6 M11.4,-0.6 L11.4,28.6" stroke-width="3"/>
<path d="M-12.9,2 L12.9,2" stroke-width="3.6"/>
<path d="M-11.6,9.6 L11.6,9.6" stroke-width="1.8"/>
<path d="M-12.6,28.6 L12.6,28.6" stroke-width="1.3"/>
</g>
<g transform="translate(305.8 446.6) rotate(0)">
<path d="M-11.4,-0.6 L-11.4,28.6 M11.4,-0.6 L11.4,28.6" stroke-width="3"/>
<path d="M-12.9,2 L12.9,2" stroke-width="3.6"/>
<path d="M-11.6,9.6 L11.6,9.6" stroke-width="1.8"/>
<path d="M-12.6,28.6 L12.6,28.6" stroke-width="1.3"/>
</g>
<g transform="translate(305.8 553.6) rotate(180)">
<path d="M-11.4,-0.6 L-11.4,28.6 M11.4,-0.6 L11.4,28.6" stroke-width="3"/>
<path d="M-12.9,2 L12.9,2" stroke-width="3.6"/>
<path d="M-11.6,9.6 L11.6,9.6" stroke-width="1.8"/>
<path d="M-12.6,28.6 L12.6,28.6" stroke-width="1.3"/>
</g>
<g transform="translate(196 500.2) rotate(0)">
<path d="M-0.6,-12 L28.4,-12 M-0.6,12 L28.4,12" stroke-width="3"/>
<path d="M1.4,-13 L1.4,13" stroke-width="3"/>
<path d="M9,-12 L9,12" stroke-width="1.8"/>
<path d="M28.4,-12.6 L28.4,12.6" stroke-width="1.2"/>
</g>
<g transform="translate(355.4 500.2) rotate(180)">
<path d="M-0.6,-12 L28.4,-12 M-0.6,12 L28.4,12" stroke-width="3"/>
<path d="M1.4,-13 L1.4,13" stroke-width="3"/>
<path d="M9,-12 L9,12" stroke-width="1.8"/>
<path d="M28.4,-12.6 L28.4,12.6" stroke-width="1.2"/>
</g>
<rect x="226.5" y="478.2" width="98" height="44.1" fill="#fff"/>
<polygon points="342.1,361.5 497.6,361.5 497.6,456.6 443.3,456.6 443.3,414.2 342.1,414.2"/>
<line x1="353.8" y1="361.5" x2="353.8" y2="414.2"/>
<line x1="353.8" y1="393.1" x2="476.5" y2="393.1"/>
<line x1="391.5" y1="361.5" x2="391.5" y2="414.2"/>
<line x1="417.3" y1="382" x2="417.3" y2="414.2"/>
<line x1="443.3" y1="361.5" x2="443.3" y2="414.2"/>
<line x1="389.6" y1="366.8" x2="409.7" y2="366.8"/>
<line x1="389.6" y1="372.2" x2="409.7" y2="372.2"/>
<line x1="444.8" y1="366.8" x2="462" y2="366.8"/>
<line x1="444.8" y1="372.2" x2="458.5" y2="372.2"/>
<line x1="484.3" y1="361.5" x2="484.3" y2="435.3"/>
<line x1="469.6" y1="388" x2="469.6" y2="456.6"/>
<line x1="443.3" y1="414.2" x2="484.3" y2="414.2"/>
<line x1="443.3" y1="435.3" x2="497.6" y2="435.3"/>
<rect x="354.4" y="357.2" width="35.2" height="24.8" rx="1.2" stroke-width="1.2" fill="#fff"/>
<line x1="354.4" y1="357.6" x2="389.6" y2="357.6" stroke-width="2"/>
<line x1="370.8" y1="357.2" x2="370.8" y2="382"/>
<line x1="354.4" y1="375.2" x2="389.6" y2="375.2"/>
<rect x="409.7" y="357.2" width="35.1" height="24.8" rx="1.2" stroke-width="1.2" fill="#fff"/>
<line x1="409.7" y1="357.6" x2="444.8" y2="357.6" stroke-width="2"/>
<line x1="426.05" y1="357.2" x2="426.05" y2="382"/>
<line x1="409.7" y1="375.2" x2="444.8" y2="375.2"/>
<polygon points="469.8,357.3 497.6,376.9 484.3,396 456.6,377.3" stroke-width="1.3" fill="#fff"/>
<line x1="469.8" y1="357.3" x2="497.6" y2="376.9" stroke-width="2.6"/>
<line x1="460.3" y1="372.8" x2="487.2" y2="391"/>
<line x1="483.1" y1="368.2" x2="470.7" y2="386.8"/>
<rect x="614.6" y="507.4" width="102.5" height="48.7" rx="24.35" stroke-width="1.4"/>
<circle cx="635.8" cy="491.6" r="9.6" stroke-width="1.6"/>
<path d="M646.37,487.33 A11.4,11.4 0 0 0 625.23,487.33" stroke-width="3.2"/>
<circle cx="635.8" cy="573.2" r="9.6" stroke-width="1.6"/>
<path d="M646.37,577.47 A11.4,11.4 0 0 1 625.23,577.47" stroke-width="3.2"/>
<circle cx="664.6" cy="491.6" r="9.6" stroke-width="1.6"/>
<path d="M675.17,487.33 A11.4,11.4 0 0 0 654.03,487.33" stroke-width="3.2"/>
<circle cx="664.6" cy="573.2" r="9.6" stroke-width="1.6"/>
<path d="M675.17,577.47 A11.4,11.4 0 0 1 654.03,577.47" stroke-width="3.2"/>
<circle cx="693.5" cy="491.6" r="9.6" stroke-width="1.6"/>
<path d="M704.07,487.33 A11.4,11.4 0 0 0 682.93,487.33" stroke-width="3.2"/>
<circle cx="693.5" cy="573.2" r="9.6" stroke-width="1.6"/>
<path d="M704.07,577.47 A11.4,11.4 0 0 1 682.93,577.47" stroke-width="3.2"/>
<rect x="761.3" y="566.8" width="24.6" height="12.3"/>
<line x1="774.1" y1="566.8" x2="774.1" y2="611.1"/>
<rect x="761.3" y="611.1" width="24.6" height="12.3"/>
<line x1="779.1" y1="592" x2="797.4" y2="623.4"/>
<polyline points="768.7,623.4 708,700.8 533.4,647.8"/>
<polyline points="533.4,647.8 515.2,707 542.2,712.4 559.8,656.2"/>
<line x1="546.5" y1="651.9" x2="528.9" y2="709.9"/>
<line x1="550.4" y1="684.5" x2="539.6" y2="681.6"/>
<circle cx="540.6" cy="681.4" r="1.7" stroke-width="1.1"/>
<path d="M515.2,707 L222,658.6 C214,657.2 205,657.6 197.2,663.5 L188.8,671.7"/>
<polygon points="147.8,630.7 128.8,649.5 169.8,690.9 188.8,671.7"/>
<line x1="138.6" y1="640.1" x2="179.2" y2="681.1"/>
<line x1="150.3" y1="668.4" x2="158.1" y2="660.6"/>
<polyline points="154.6,660.2 158.1,660.6 157.7,664.2 154.6,660.2" stroke-width="1"/>
<line x1="197.8" y1="579.5" x2="147.8" y2="630.7"/>
<polyline points="80.2,561.6 138,620.5 177,580.5"/>
<line x1="121.4" y1="602.6" x2="178" y2="579.5"/>
<polygon points="82.1,482.1 120,520.9 80.2,561.6 40.9,523.5"/>
<line x1="91.57" y1="491.8" x2="50.73" y2="533.02"/>
<line x1="101.05" y1="501.5" x2="60.55" y2="542.55"/>
<line x1="110.53" y1="511.2" x2="70.38" y2="552.08"/>
<line x1="61.5" y1="502.8" x2="99" y2="540.2" stroke-width="1.2"/>
<polyline points="94.5,539.6 99,540.2 98.3,535.8 94.5,539.6" stroke-width="1.2" fill="#111"/>
<polyline points="179,303.4 93.4,303.4 93.4,384.5 120.8,384.5"/>
<line x1="107.1" y1="303.4" x2="107.1" y2="384.5"/>
<rect x="113.4" y="309.9" width="7.4" height="7.8"/>
<line x1="120.8" y1="317.7" x2="179" y2="317.7"/>
<line x1="120.8" y1="317.7" x2="120.8" y2="391.3"/>
<polyline points="113.4,384.5 113.4,391.3 120.8,391.3"/>
<line x1="120.8" y1="390.6" x2="179" y2="390.6"/>
<line x1="120.8" y1="391.3" x2="120.8" y2="425.3"/>
<line x1="120.8" y1="425.3" x2="120.8" y2="520.9" stroke-width="1.6"/>
<polyline points="138.4,390.6 138.4,403 132.6,403 132.6,425.3"/>
<polyline points="176.4,390.6 176.4,403 179,403"/>
<line x1="132.6" y1="425.3" x2="132.6" y2="567" stroke-dasharray="7 2.2"/>
<line x1="132.6" y1="567" x2="179" y2="567" stroke-dasharray="7 2.2"/>
<polyline points="120.6,520.9 120.6,579.3 179,579.3" stroke-dasharray="7 2.2"/>
<line x1="153.4" y1="416.8" x2="153.4" y2="520.9"/>
<line x1="151.6" y1="411.8" x2="179" y2="411.8"/>
<polygon points="150.3,416.8 153.4,412.2 156.5,416.8" stroke-width="1.2"/>
<line x1="127" y1="425.3" x2="179" y2="425.3"/>
<line x1="120.8" y1="438.96" x2="179" y2="438.96"/>
<line x1="120.8" y1="452.62" x2="179" y2="452.62"/>
<line x1="120.8" y1="466.28" x2="179" y2="466.28"/>
<line x1="120.8" y1="479.94" x2="179" y2="479.94"/>
<line x1="120.8" y1="493.6" x2="179" y2="493.6"/>
<line x1="120.8" y1="507.26" x2="179" y2="507.26"/>
<line x1="120.8" y1="520.92" x2="179" y2="520.92"/>
<text x="196.4" y="199.6" textLength="26.8" lengthAdjust="spacingAndGlyphs">Soba</text>
<text x="196.4" y="216.2" textLength="68.7" lengthAdjust="spacingAndGlyphs">P = 8,47 m²</text>
<text x="360.1" y="199.6" textLength="26.8" lengthAdjust="spacingAndGlyphs">Soba</text>
<text x="360.1" y="216.2" textLength="67.5" lengthAdjust="spacingAndGlyphs">P = 8,47 m²</text>
<text x="693.2" y="210.4" textLength="26.8" lengthAdjust="spacingAndGlyphs">Soba</text>
<text x="693.2" y="226.6" textLength="74.4" lengthAdjust="spacingAndGlyphs">P = 11,69 m²</text>
<text x="695.1" y="282.1" textLength="26.8" lengthAdjust="spacingAndGlyphs">Soba</text>
<text x="695.1" y="298.1" textLength="74" lengthAdjust="spacingAndGlyphs">P = 11,69 m²</text>
<text x="793" y="155" textLength="26.8" lengthAdjust="spacingAndGlyphs">Soba</text>
<text x="793" y="171" textLength="67.4" lengthAdjust="spacingAndGlyphs">P = 8,89 m²</text>
<text x="826.6" y="307.1" textLength="51.4" lengthAdjust="spacingAndGlyphs">kuhinja i</text>
<text x="826.6" y="323.7" textLength="66.8" lengthAdjust="spacingAndGlyphs">blagavaona</text>
<text x="827.2" y="339.7" textLength="75.6" lengthAdjust="spacingAndGlyphs">P = 12,10 m²</text>
<text x="372.7" y="475.5" textLength="95.3" lengthAdjust="spacingAndGlyphs">Dnevni Boravak,</text>
<text x="372.7" y="491.8" textLength="122.7" lengthAdjust="spacingAndGlyphs">blagavaona i kuhinja</text>
<text x="372.7" y="508.4" textLength="74.6" lengthAdjust="spacingAndGlyphs">P = 50,16 m²</text>
<text x="837.4" y="477.8" textLength="37.5" lengthAdjust="spacingAndGlyphs">Studio</text>
<text x="837.4" y="494" textLength="158" lengthAdjust="spacingAndGlyphs">nije dio Apartmana A(8+2)</text>
<text x="796" y="634.3" textLength="37" lengthAdjust="spacingAndGlyphs">Roštilj</text>
<polyline points="813.9,433.5 813.9,482.9 826.6,482.9"/>
</svg>
</body></html>
